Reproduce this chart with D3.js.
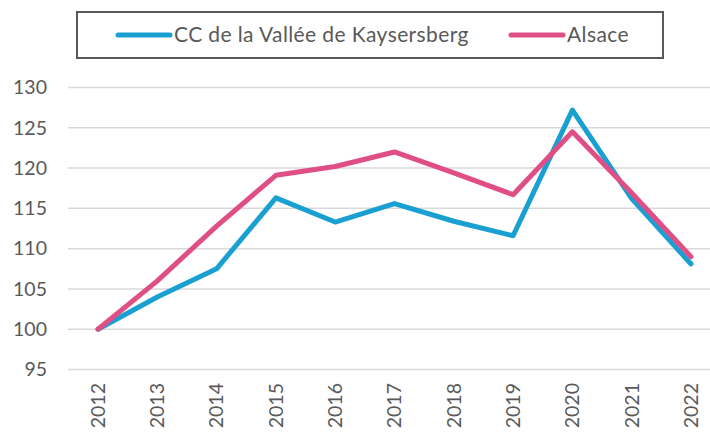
<!DOCTYPE html>
<html>
<head>
<meta charset="utf-8">
<script src="https://cdn.jsdelivr.net/npm/d3@7"></script>
<style>
body{margin:0;background:#fff;}
text{font-family:Lato,"Open Sans",sans-serif;fill:#595959;}
</style>
</head>
<body>
<div id="chart"></div>
<script>
// data
var years=[2012,2013,2014,2015,2016,2017,2018,2019,2020,2021,2022]
var kaysersberg=[100,104,107.5,116.3,113.3,115.6,113.4,111.6,127.2,116.2,108.1]
var alsace=[100,106,112.8,119.1,120.2,122,119.4,116.7,124.5,116.9,109]
var yTicks=[95,100,105,110,115,120,125,130]
var seriesNames=["CC de la Vallée de Kaysersberg","Alsace"]
var colors=["#1a9fd2","#df4f86"]

var svgW=710, svgH=434
var svg=d3.select('#chart').append('svg')
    .attr('width',svgW)
    .attr('height',svgH)

var xscale=d3.scalePoint()
    .domain(years)
    .range([98,691])
var yscale=d3.scaleLinear()
    .domain([95,130])
    .range([369.5,87.5])

// gridlines
svg.append('g').selectAll('line')
    .data(yTicks)
    .join('line')
    .attr('x1',68).attr('x2',710)
    .attr('y1',d=>yscale(d)).attr('y2',d=>yscale(d))
    .attr('stroke','#d9d9d9')
    .attr('stroke-width',1.5)

// y labels
svg.append('g').selectAll('text')
    .data(yTicks)
    .join('text')
    .attr('x',47)
    .attr('y',d=>yscale(d))
    .attr('dy','0.35em')
    .attr('text-anchor','end')
    .style('font-size','19.5px')
    .text(d=>d)

// x labels
svg.append('g').selectAll('text')
    .data(years)
    .join('text')
    .attr('transform',d=>`translate(${xscale(d)},383) rotate(-90)`)
    .attr('dy','0.35em')
    .attr('text-anchor','end')
    .style('font-size','19.5px')
    .text(d=>d)

var line=d3.line()
    .x((d,i)=>xscale(years[i]))
    .y(d=>yscale(d))

;[kaysersberg,alsace].forEach(function(s,i){
    svg.append('path')
        .datum(s)
        .attr('d',line)
        .attr('fill','none')
        .attr('stroke',colors[i])
        .attr('stroke-width',5)
        .attr('stroke-linejoin','round')
        .attr('stroke-linecap','round')
})

// legend
var leg=svg.append('g')
leg.append('rect')
    .attr('x',77).attr('y',12)
    .attr('width',586).attr('height',46)
    .attr('fill','#fff')
    .attr('stroke','#595959')
    .attr('stroke-width',2)
var legX=[118,511]
seriesNames.forEach(function(n,i){
    leg.append('line')
        .attr('x1',legX[i]).attr('x2',legX[i]+52)
        .attr('y1',35).attr('y2',35)
        .attr('stroke',colors[i])
        .attr('stroke-width',5)
        .attr('stroke-linecap','round')
    leg.append('text')
        .attr('x',legX[i]+56)
        .attr('y',35)
        .attr('dy','0.35em')
        .style('font-size','21px')
        .style('letter-spacing','0.4px')
        .text(n)
})
</script>
</body>
</html>
